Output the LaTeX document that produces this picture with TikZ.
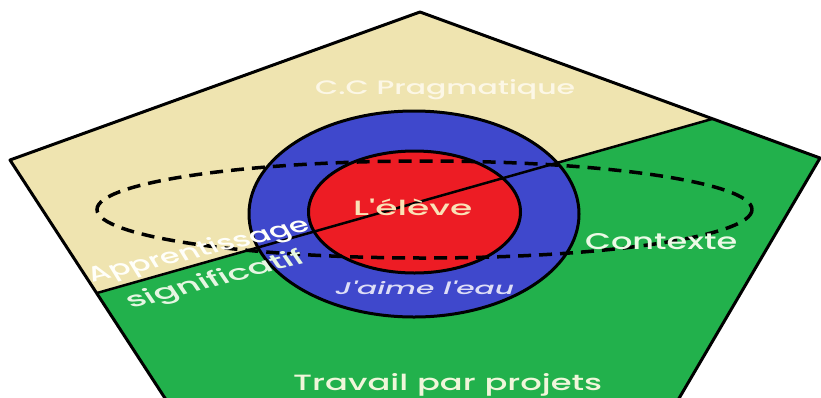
\documentclass[tikz,border=0pt]{standalone}
\usepackage{fontspec}
\IfFontExistsTF{Poppins Medium}{\setmainfont{Poppins Medium}}{\setmainfont{Poppins}}
\definecolor{tanc}{RGB}{239,228,176}
\definecolor{greenc}{RGB}{34,177,76}
\definecolor{bluec}{RGB}{63,72,204}
\definecolor{redc}{RGB}{237,28,36}
\definecolor{ccprc}{RGB}{252,247,230}
\definecolor{elevec}{RGB}{250,226,182}
\definecolor{jaimec}{RGB}{222,222,246}
\definecolor{ctxc}{RGB}{236,250,230}
\definecolor{travc}{RGB}{240,246,218}
\definecolor{apprc}{RGB}{255,255,250}
\definecolor{signc}{RGB}{230,246,226}
\begin{document}
\begin{tikzpicture}[x=1pt,y=-1pt,
  outline/.style={draw=black, line width=3pt, line join=round},
  divider/.style={draw=black, line width=2.5pt},
  dashring/.style={draw=black, line width=3.5pt, dash pattern=on 13pt off 8pt},
  lbl/.style={inner sep=0pt, anchor=base west}]
\useasboundingbox (0,0) rectangle (821,397);
\clip (0,0) rectangle (821,397);
\coordinate (T) at (420,12);
\coordinate (L) at (10,160);
\coordinate (R) at (820,158);
\coordinate (BL) at (174,412);
\coordinate (BR) at (671,412);
\coordinate (DL) at (97,293);
\coordinate (DR) at (712,119);
\fill[tanc] (L) -- (T) -- (DR) -- (DL) -- cycle;
\fill[greenc] (DL) -- (DR) -- (R) -- (BR) -- (BL) -- cycle;
\draw[outline] (L) -- (T) -- (R) -- (BR) -- (BL) -- cycle;
\filldraw[fill=bluec, outline] (414,214) ellipse [x radius=165, y radius=103];
\filldraw[fill=redc, outline] (414.5,212) ellipse [x radius=106, y radius=61];
\draw[divider] (DL) -- (DR);
\draw[dashring] (424.5,209.5) ellipse [x radius=327.5, y radius=48.5];
\node[lbl, text=ccprc] (cc) at (315,94) {\resizebox{260pt}{15pt}{C.C Pragmatique}};
\node[lbl, text=elevec] (eleve) at (353,215) {\resizebox{119pt}{16.5pt}{L\textquotesingle élève}};
\node[lbl, text=jaimec] (jaime) at (335,294) {\resizebox{179pt}{13.5pt}{\itshape J\textquotesingle aime l\textquotesingle eau}};
\node[lbl, text=ctxc] (ctx) at (585,249) {\resizebox{152pt}{16pt}{Contexte}};
\node[lbl, text=travc] (trav) at (293,390) {\resizebox{309pt}{17pt}{Travail par projets}};
\begin{scope}[shift={(92,283)}, xscale=1.6, rotate=21]
\node[lbl, text=apprc, transform shape] (appr) at (0,0) {\resizebox{147pt}{16pt}{Apprentissage}};
\end{scope}
\begin{scope}[shift={(131,309)}, xscale=1.6, rotate=23]
\node[lbl, text=signc, transform shape] (sign) at (0,0) {\resizebox{120pt}{16pt}{significatif}};
\end{scope}
\end{tikzpicture}
\end{document}
